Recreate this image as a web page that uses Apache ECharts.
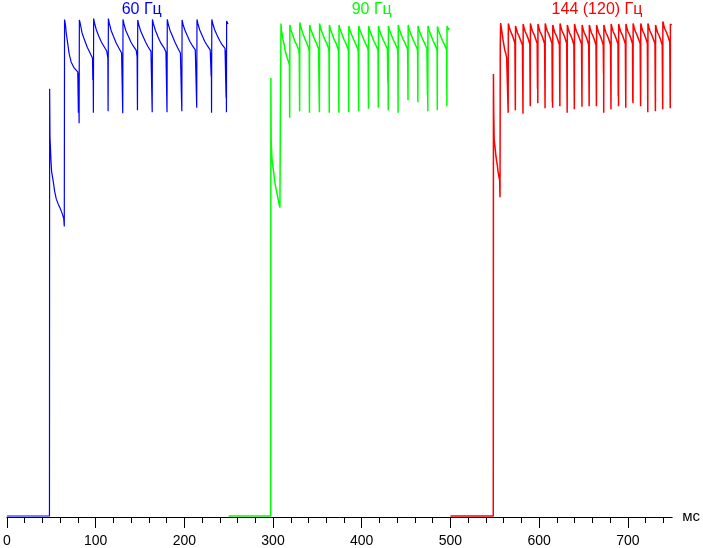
<!DOCTYPE html>
<html>
<head>
<meta charset="utf-8">
<script src="https://cdn.jsdelivr.net/npm/echarts@6/dist/echarts.min.js"></script>
<style>html,body{margin:0;padding:0;background:#fff}#c{width:703px;height:548px}</style>
</head>
<body>
<div id="c"></div>
<script>
// x: time, ms; y: relative brightness, %
const majorTicks = [0, 100, 200, 300, 400, 500, 600, 700];
const seriesNames = ['60 Гц', '90 Гц', '144 (120) Гц'];
const axisName = 'мс';

const blueData = [
[0,0.2],[20,0.2],[40,0.2],[48.0,0.2],
[48.2,85.8],[48.6,76.1],[49.8,71.1],[50.5,69.1],[52.4,67.1],[53.8,65.3],[55.7,63.7],[57.9,62.7],[60.2,61.8],[62.4,60.8],[64.1,59.8],[64.7,58.2],
[65.0,99.7],[66.1,98.6],[66.9,97.0],[68.0,95.6],[69.1,94.2],[70.2,92.8],[72.4,91.2],[75.8,90.0],[79.9,89.2],[80.6,81.0],[81.0,89.0],[81.4,78.9],
[81.7,99.6],[82.8,98.8],[84.6,97.1],[86.5,96.1],[88.6,95.1],[90.7,94.1],[92.7,93.4],[94.8,92.6],[96.5,92.0],[96.9,87.6],[97.2,92.0],[97.5,81.0],
[97.8,99.9],[98.9,98.9],[100.9,97.6],[103.5,96.4],[106.5,95.2],[109.5,94.3],[112.5,93.4],[113.8,92.0],[114.1,81.3],
[114.4,99.9],[115.5,98.9],[117.5,97.5],[120.2,96.3],[123.2,95.0],[126.2,94.0],[129.3,93.0],[130.3,92.6],[130.6,80.9],
[130.9,99.7],[132.0,98.8],[134.0,97.5],[136.8,96.4],[139.8,95.2],[142.8,94.3],[145.8,93.5],[146.8,92.2],[147.2,81.5],
[147.5,99.6],[148.6,98.7],[150.6,97.5],[153.3,96.4],[156.3,95.2],[159.3,94.2],[162.4,93.3],[163.5,93.0],[163.8,81.1],
[164.1,99.7],[165.2,98.8],[166.3,98.2],[167.4,97.5],[168.9,96.9],[170.4,96.2],[171.9,95.6],[173.8,94.9],[175.6,94.6],[177.5,93.9],[179.3,93.2],[180.2,92.9],[180.5,81.1],
[180.8,99.7],[181.9,98.8],[183.9,97.5],[186.6,96.4],[189.6,95.1],[192.6,94.0],[195.6,93.0],[196.9,92.6],[197.2,81.3],
[197.5,99.6],[198.6,98.7],[200.6,97.6],[203.3,96.5],[206.3,95.3],[209.3,94.4],[212.4,93.6],[213.6,93.4],[214.0,82.0],
[214.3,99.7],[215.4,98.8],[217.4,97.6],[220.1,96.5],[223.1,95.3],[226.1,94.4],[229.2,93.6],[230.0,93.4],[230.3,88.3],[230.5,93.0],[230.7,81.0],
[231.0,99.7],[232.1,98.9],[234.1,97.7],[236.8,96.6],[239.8,95.5],[242.8,94.6],[245.9,93.9],[246.9,93.8],[247.1,84.0],[247.3,93.5],[247.5,81.1],
[247.7,99.4],[248.5,99.6],[249.3,98.8]
];

const greenData = [
[250,0.2],[270,0.2],[290,0.2],[297.4,0.2],
[297.6,88.0],[297.9,75.7],[298.6,72.4],[299.7,70.4],[300.8,69.1],[302.0,67.1],[303.5,65.7],[305.0,64.4],[306.5,63.0],[307.8,62.0],[308.2,61.8],[308.3,79.8],[308.9,79.6],
[309.0,98.9],[309.4,97.5],[310.2,96.9],[311.3,95.6],[312.4,94.9],[313.5,93.6],[314.6,92.9],[315.7,92.2],[316.8,91.6],[317.9,91.0],[318.5,90.5],[318.8,80.0],
[319.0,98.6],[320.1,97.6],[322.3,96.6],[324.6,95.3],[326.8,94.6],[329.0,93.6],[329.6,92.6],[330.0,81.3],
[330.2,99.1],[331.3,98.2],[333.5,97.0],[335.8,95.9],[338.0,95.0],[340.2,94.0],[340.8,93.3],[341.1,81.0],
[341.3,98.6],[342.4,97.8],[344.6,96.8],[346.9,95.7],[349.1,94.9],[351.3,93.8],[351.9,93.4],[352.3,81.1],
[352.5,98.9],[353.6,98.0],[355.8,96.9],[358.1,95.8],[360.3,95.0],[362.5,94.0],[363.1,93.2],[363.4,81.0],
[363.6,98.6],[364.7,97.7],[366.9,96.7],[369.2,95.6],[371.4,94.8],[373.3,93.8],[373.9,93.3],[374.2,81.0],
[374.4,98.6],[375.5,97.8],[377.7,96.8],[380.0,95.7],[382.2,94.9],[384.4,93.9],[385.0,93.4],[385.3,81.1],
[385.5,98.4],[386.6,97.6],[388.8,96.6],[391.1,95.6],[393.3,94.8],[395.5,93.8],[396.1,93.2],[396.5,81.3],
[396.7,98.4],[397.8,97.7],[400.0,96.7],[402.3,95.7],[404.5,94.8],[406.7,94.0],[407.3,93.4],[407.6,81.8],
[407.8,98.4],[408.9,97.6],[411.1,96.6],[413.4,95.5],[415.6,94.7],[417.8,93.8],[418.4,93.3],[418.7,82.0],
[418.9,98.4],[420.0,97.6],[422.2,96.5],[424.5,95.5],[426.7,94.7],[428.9,93.8],[429.5,87.0],[429.7,93.4],[429.9,81.5],
[430.1,98.4],[431.2,97.6],[433.4,96.6],[435.7,95.6],[437.9,94.8],[440.1,93.9],[440.7,93.3],[441.0,81.0],
[441.2,98.6],[442.3,97.8],[444.5,96.7],[446.8,95.7],[449.0,94.9],[451.2,94.0],[451.8,93.4],[452.2,83.5],
[452.4,98.6],[453.5,97.7],[455.7,96.7],[458.0,95.6],[460.2,94.8],[462.4,93.9],[463.0,93.3],[463.3,83.1],
[463.5,98.4],[464.6,97.6],[466.8,96.6],[469.1,95.6],[471.3,94.8],[473.5,93.9],[474.1,84.6],[474.3,93.3],[474.5,81.3],
[474.7,98.4],[475.8,97.6],[478.0,96.6],[480.3,95.5],[482.5,94.7],[484.5,93.8],[485.0,93.3],[485.2,81.5],
[485.4,98.3],[486.5,97.5],[488.7,96.5],[491.0,95.5],[493.2,94.7],[495.4,93.8],[495.8,93.3],[496.0,82.3],
[496.2,98.4],[497.3,97.6],[498.0,97.2],[498.8,98.0]
];

const redData = [
[500,0.2],[520,0.2],[540,0.2],[548.3,0.2],
[548.5,88.8],[548.8,81.3],[549.3,75.7],[549.9,75.3],[550.6,73.6],[551.3,72.3],[552.1,71.3],[552.8,70.6],[553.6,69.3],[554.8,68.1],[555.5,67.5],[555.9,64.1],[556.2,94.6],
[556.6,99.0],[557.1,98.6],[558.2,97.0],[559.3,95.6],[560.0,94.9],[561.2,93.6],[562.3,93.0],[563.4,92.0],[564.5,91.6],[565.1,81.0],
[565.3,98.9],[566.4,98.1],[567.5,97.5],[568.1,97.8],[569.2,96.8],[570.9,96.0],[572.7,94.9],[573.2,81.5],
[573.4,98.4],[574.5,97.7],[575.6,97.0],[576.2,97.4],[577.3,96.4],[579.0,95.6],[581.2,94.6],[581.8,80.8],
[582.0,98.8],[583.1,98.0],[584.2,97.3],[584.8,97.7],[585.9,96.7],[587.6,95.9],[589.5,94.8],[590.0,82.3],
[590.2,98.9],[591.3,98.1],[592.4,97.4],[593.0,97.8],[594.1,96.8],[595.8,96.0],[597.8,94.9],[598.2,85.8],[598.4,94.6],[598.5,82.9],
[598.7,98.8],[599.8,98.0],[600.9,97.3],[601.5,97.7],[602.6,96.7],[604.3,95.9],[606.2,94.8],[606.7,81.9],
[606.9,98.9],[608.0,98.1],[609.1,97.4],[609.7,97.8],[610.8,96.8],[612.5,96.0],[614.5,94.9],[614.9,83.1],[615.1,94.6],[615.2,82.0],
[615.4,98.6],[616.5,97.8],[617.6,97.1],[618.2,97.5],[619.3,96.5],[621.0,95.7],[622.9,94.6],[623.4,82.3],
[623.6,98.9],[624.7,98.1],[625.8,97.4],[626.4,97.8],[627.5,96.8],[629.2,96.0],[631.1,94.9],[631.6,81.0],
[631.8,98.6],[632.9,97.8],[634.0,97.1],[634.6,97.5],[635.7,96.5],[637.4,95.7],[639.2,94.6],[639.7,81.7],
[639.9,98.8],[641.0,98.0],[642.1,97.3],[642.7,97.7],[643.8,96.7],[645.5,95.9],[647.8,94.8],[648.3,82.2],
[648.5,98.6],[649.6,97.8],[650.7,97.1],[651.3,97.5],[652.4,96.5],[654.1,95.7],[655.9,94.6],[656.4,82.3],
[656.6,98.6],[657.7,97.8],[658.8,97.1],[659.4,97.5],[660.5,96.5],[662.2,95.7],[664.1,94.6],[664.6,82.3],
[664.8,98.6],[665.9,97.8],[667.0,97.1],[667.6,97.5],[668.7,96.5],[670.4,95.7],[672.3,94.6],[672.6,89.0],[672.7,94.4],[672.8,81.0],
[673.0,98.6],[674.1,97.8],[675.2,97.1],[675.8,97.5],[676.9,96.5],[678.6,95.7],[680.5,94.6],[681.0,81.7],
[681.2,98.8],[682.3,98.0],[683.4,97.3],[684.0,97.7],[685.1,96.7],[686.8,95.9],[688.9,94.8],[689.2,84.3],[689.4,94.5],[689.5,82.3],
[689.7,98.8],[690.8,98.0],[691.9,97.3],[692.5,97.7],[693.6,96.7],[695.3,95.9],[697.2,94.8],[697.7,82.0],
[697.9,98.8],[699.0,98.0],[700.1,97.3],[700.7,97.7],[701.8,96.7],[703.5,95.9],[705.3,94.8],[705.6,83.3],[705.7,94.5],[705.8,82.9],
[706.0,98.9],[707.1,98.1],[708.2,97.4],[708.8,97.8],[709.9,96.8],[711.6,96.0],[713.9,94.9],[714.4,82.3],
[714.6,98.9],[715.7,98.1],[716.8,97.4],[717.4,97.8],[718.5,96.8],[720.2,96.0],[722.0,94.9],[722.5,81.1],
[722.7,98.9],[723.8,98.1],[724.9,97.4],[725.5,97.8],[726.6,96.8],[728.3,96.0],[730.6,94.9],[731.1,81.3],
[731.3,98.6],[732.4,97.8],[733.5,97.1],[734.1,97.5],[735.2,96.5],[736.9,95.7],[738.8,94.6],[739.3,81.7],
[739.5,99.3],[740.6,98.5],[741.7,97.8],[742.3,98.2],[743.4,97.2],[745.1,96.4],[747.3,95.2],[747.8,81.9],
[748.0,98.8],[748.8,98.9],[749.5,98.6]
];

const colors = ['#0000ff', '#00ff00', '#ff0000'];
const lineWidths = [1.2, 1.5, 1.5];
const labelCenters = [141.7, 371.7, 597]; // px positions of the series captions

const minorTicks = [];
for (let v = 20; v < 750; v += 20) { if (v % 100 !== 0) minorTicks.push(v); }

const chart = echarts.init(document.getElementById('c'), null, {renderer: 'canvas'});
const FONT = '"Liberation Sans", Arial, sans-serif';
chart.setOption({
  animation: false,
  backgroundColor: '#fff',
  grid: {left: 4, right: 26, top: 18, bottom: 28, containLabel: false},
  xAxis: [{
    type: 'value', min: 0, max: 750, position: 'bottom',
    name: axisName, nameLocation: 'end', nameGap: 10,
    nameTextStyle: {color: '#000', fontSize: 15, fontFamily: FONT, verticalAlign: 'middle', padding: [6, 0, 0, 0]},
    axisLine: {show: true, lineStyle: {color: '#000', width: 1}},
    axisTick: {show: true, length: 11, inside: false, customValues: majorTicks, lineStyle: {color: '#000'}},
    axisLabel: {show: true, customValues: majorTicks, margin: 17, color: '#000', fontSize: 14, fontFamily: FONT},
    splitLine: {show: false}
  }, {
    type: 'value', min: 0, max: 750, position: 'bottom',
    axisLine: {show: false},
    axisTick: {show: true, length: 6, customValues: minorTicks, lineStyle: {color: '#000'}},
    axisLabel: {show: false},
    splitLine: {show: false}
  }],
  yAxis: {type: 'value', min: 0, max: 100, show: false, splitLine: {show: false}},
  graphic: seriesNames.map((n, i) => ({
    type: 'text', x: labelCenters[i], y: 2, z: 10,
    style: {text: n, fill: colors[i], font: '16px ' + FONT, align: 'center', verticalAlign: 'top', textAlign: 'center', textVerticalAlign: 'top'}
  })),
  series: [blueData, greenData, redData].map((d, i) => ({
    name: seriesNames[i], type: 'line', data: d, xAxisIndex: 0,
    symbol: 'none', showSymbol: false, clip: false,
    lineStyle: {color: colors[i], width: lineWidths[i]}, itemStyle: {color: colors[i]},
    emphasis: {disabled: true}
  }))
});
</script>
</body>
</html>
